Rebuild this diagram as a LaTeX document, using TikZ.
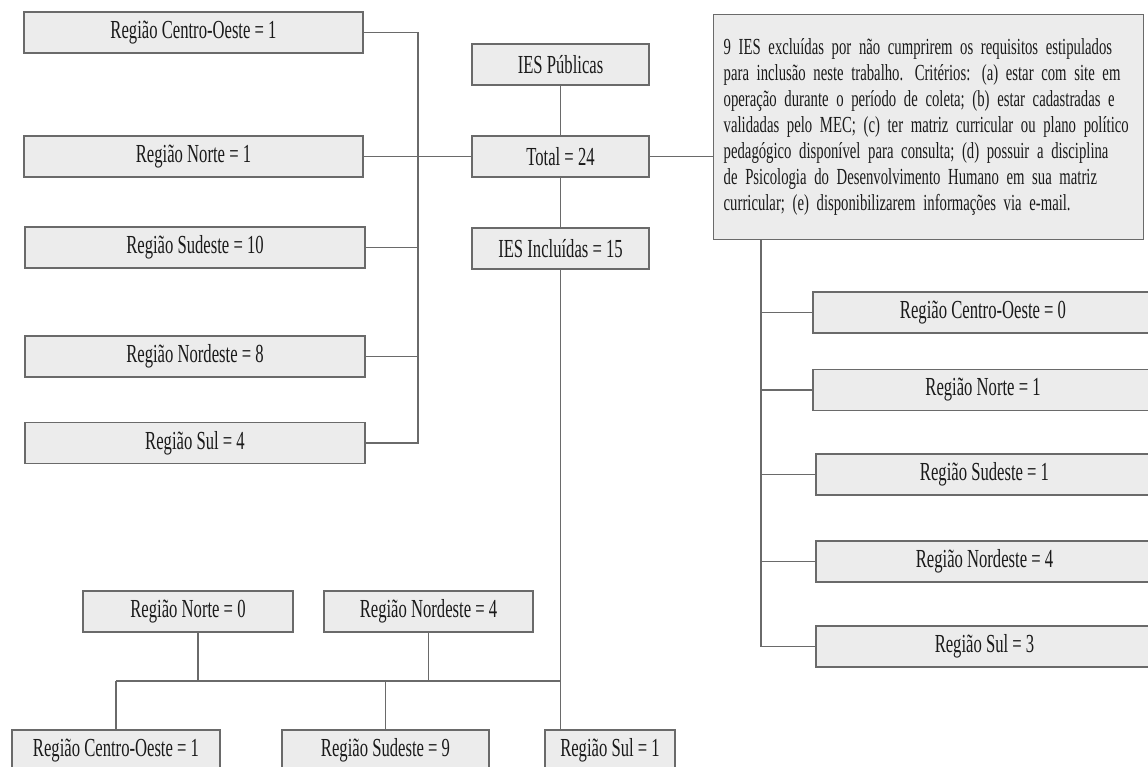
\documentclass[tikz,border=0pt]{standalone}
\usepackage{fontspec}
\setmainfont{Liberation Serif}[FakeStretch=0.64]
\definecolor{boxfill}{HTML}{ECECEC}
\definecolor{boxline}{HTML}{6A6A6A}
\definecolor{txt}{HTML}{1A1A1A}
\begin{document}
\begin{tikzpicture}[x=1pt,y=-1pt,
  box/.style={draw=boxline, fill=boxfill, line width=1.4pt, inner sep=0pt,
    minimum height=41pt, text=txt, font=\fontsize{26}{30}\selectfont},
  notebox/.style={box, font=\fontsize{23}{26}\selectfont, text width=410pt,
    inner xsep=10pt, minimum height=225pt, align=left},
  conn/.style={draw=boxline, line width=1.4pt}]
\useasboundingbox (0,0) rectangle (1148,767);
\clip (0,0) rectangle (1148,767);
\fill[white] (0,0) rectangle (1148,767);

% left column
\node[box, minimum width=339pt] (lco) at (193.5,32.5) {Região Centro-Oeste = 1};
\node[box, minimum width=339pt] (ln)  at (193.5,156.5) {Região Norte = 1};
\node[box, minimum width=340pt] (lse) at (195,247.5) {Região Sudeste = 10};
\node[box, minimum width=340pt] (lne) at (195,356.5) {Região Nordeste = 8};
\node[box, minimum width=340pt] (ls)  at (195,443) {Região Sul = 4};
\coordinate (lv) at (418,0);

% centre column
\node[box, minimum width=177pt] (pub) at (560.5,64.5) {IES Públicas};
\node[box, minimum width=177pt] (tot) at (560.5,156.5) {Total = 24};
\node[box, minimum width=177pt] (inc) at (560.5,248.5) {IES Incluídas = 15};

% excluded box
\node[notebox, anchor=north west] (excl) at (713,14) {%
\makebox[410pt][s]{9 IES excluídas por não cumprirem os requisitos estipulados}\\
\makebox[410pt][s]{para inclusão neste trabalho. Critérios: (a) estar com site em}\\
\makebox[410pt][s]{operação durante o período de coleta; (b) estar cadastradas e}\\
\makebox[410pt][s]{validadas pelo MEC; (c) ter matriz curricular ou plano político}\\
\makebox[410pt][s]{pedagógico disponível para consulta; (d) possuir a disciplina}\\
\makebox[410pt][s]{de Psicologia do Desenvolvimento Humano em sua matriz}\\
curricular; (e) disponibilizarem informações via e-mail.};

% right column
\node[box, minimum width=340pt] (rco) at (983,312.5) {Região Centro-Oeste = 0};
\node[box, minimum width=340pt] (rn)  at (983,390) {Região Norte = 1};
\node[box, minimum width=337pt] (rse) at (984.5,474.5) {Região Sudeste = 1};
\node[box, minimum width=337pt] (rne) at (984.5,561.5) {Região Nordeste = 4};
\node[box, minimum width=337pt] (rs)  at (984.5,646.5) {Região Sul = 3};
\coordinate (rv) at (761,0);

% bottom part
\node[box, minimum width=210pt] (bn)  at (188,611.5) {Região Norte = 0};
\node[box, minimum width=209pt] (bne) at (428.5,611.5) {Região Nordeste = 4};
\node[box, minimum width=208pt] (bco) at (116,750.5) {Região Centro-Oeste = 1};
\node[box, minimum width=207pt] (bse) at (385.5,750.5) {Região Sudeste = 9};
\node[box, minimum width=130pt] (bs)  at (610,750.5) {Região Sul = 1};
\coordinate (bnl) at (198,0);
\coordinate (bh) at (0,681);

% connectors: left
\draw[conn] (lco.east) -- (lco.east -| lv) -- (ls.east -| lv) -- (ls.east);
\draw[conn] (lse.east) -- (lse.east -| lv);
\draw[conn] (lne.east) -- (lne.east -| lv);
\draw[conn] (ln.east) -- (tot.west);
% centre
\draw[conn] (pub.south) -- (tot.north);
\draw[conn] (tot.south) -- (inc.north);
\draw[conn] (tot.east) -- (tot.east -| excl.west);
% right
\draw[conn] (excl.south -| rv) -- (rs.west -| rv) -- (rs.west);
\draw[conn] (rco.west) -- (rco.west -| rv);
\draw[conn] (rn.west) -- (rn.west -| rv);
\draw[conn] (rse.west) -- (rse.west -| rv);
\draw[conn] (rne.west) -- (rne.west -| rv);
% bottom
\draw[conn] (inc.south) -- (inc.south |- bs.north);
\draw[conn] (bn.south -| bnl) -- (bh -| bnl);
\draw[conn] (bne.south) -- (bne.south |- bh);
\draw[conn] (bco.north |- bh) -- (inc.south |- bh);
\draw[conn] (bco.north |- bh) -- (bco.north);
\draw[conn] (bse.north |- bh) -- (bse.north);
\end{tikzpicture}
\end{document}
